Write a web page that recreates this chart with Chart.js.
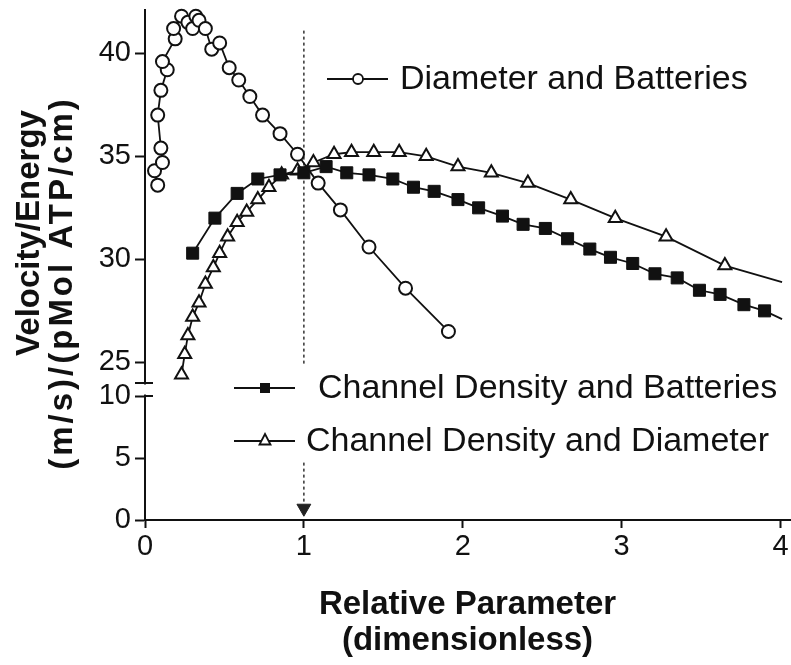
<!DOCTYPE html>
<html>
<head>
<meta charset="utf-8">
<script src="https://cdn.jsdelivr.net/npm/chart.js@4/dist/chart.umd.min.js"></script>
<style>
  body { margin: 0; background: #fff; }
  canvas { display: block; }
</style>
</head>
<body>
<canvas id="myChart" width="791" height="665"></canvas>
<script>
// series names
const seriesNames = [
  "Diameter and Batteries",
  "Channel Density and Batteries",
  "Channel Density and Diameter",
];

// Diameter and Batteries (open circles)
const circleX = [0.08, 0.06, 0.11, 0.10, 0.08, 0.10, 0.14, 0.11, 0.19, 0.18, 0.23, 0.27, 0.30, 0.32, 0.34,
  0.38, 0.42, 0.47, 0.53, 0.59, 0.66, 0.74, 0.85, 0.96, 1.09, 1.23, 1.41, 1.64, 1.91];
const circleY = [33.6, 34.3, 34.7, 35.4, 37.0, 38.2, 39.2, 39.6, 40.7, 41.2, 41.8, 41.5, 41.2, 41.8, 41.6,
  41.2, 40.2, 40.5, 39.3, 38.7, 37.9, 37.0, 36.1, 35.1, 33.7, 32.4, 30.6, 28.6, 26.5];

// Channel Density and Batteries (filled squares), last value is where the line leaves the plot
const squareX = [0.30, 0.44, 0.58, 0.71, 0.85, 1.00, 1.14, 1.27, 1.41, 1.56, 1.69, 1.82, 1.97, 2.10,
  2.25, 2.38, 2.52, 2.66, 2.80, 2.93, 3.07, 3.21, 3.35, 3.49, 3.62, 3.77, 3.90, 4.01];
const squareY = [30.3, 32.0, 33.2, 33.9, 34.1, 34.2, 34.5, 34.2, 34.1, 33.9, 33.5, 33.3, 32.9, 32.5,
  32.1, 31.7, 31.5, 31.0, 30.5, 30.1, 29.8, 29.3, 29.1, 28.5, 28.3, 27.8, 27.5, 27.1];

// Channel Density and Diameter (open triangles), last value is where the line leaves the plot
const triangleX = [0.23, 0.25, 0.27, 0.30, 0.34, 0.38, 0.43, 0.47, 0.52, 0.58, 0.64, 0.71, 0.78, 0.86,
  0.96, 1.06, 1.19, 1.30, 1.44, 1.60, 1.77, 1.97, 2.18, 2.41, 2.68, 2.96, 3.28, 3.65, 4.01];
const triangleY = [24.4, 25.4, 26.3, 27.2, 27.9, 28.8, 29.6, 30.3, 31.1, 31.8, 32.3, 32.9, 33.5, 34.1,
  34.3, 34.7, 35.1, 35.2, 35.2, 35.2, 35.0, 34.5, 34.2, 33.7, 32.9, 32.0, 31.1, 29.7, 28.9];

// reference marker at x = 1
const refX = 1;
const refTop = 41.1;
const refArrowY = 0.95;

// tick labels
const xTicks = [0, 1, 2, 3, 4];
const yTopTicks = [25, 30, 35, 40];
const yLowTicks = [0, 5, 10];

const yTitle = ["Velocity/Energy", "(m/s)/(pMol ATP/cm)"];
const xTitle = ["Relative Parameter", "(dimensionless)"];

const FONT = '"Liberation Sans", Arial, sans-serif';
Chart.defaults.font.family = FONT;
Chart.defaults.color = "#111";

function toPoints(xs, ys) {
  return xs.map((x, i) => ({ x: x, y: ys[i] }));
}
// hide the marker on the final edge point
function lastHidden(n, r) {
  const arr = [];
  for (let i = 0; i < n; i++) arr.push(i === n - 1 ? 0 : r);
  return arr;
}

const breakAndLegend = {
  id: "breakAndLegend",
  beforeDatasetsDraw(chart) {
    const { ctx, scales } = chart;
    const px = scales.x.getPixelForValue(refX);
    ctx.save();
    ctx.strokeStyle = "#333";
    ctx.lineWidth = 1.5;
    ctx.setLineDash([3, 3]);
    ctx.beginPath();
    ctx.moveTo(px, scales.y.getPixelForValue(refTop));
    ctx.lineTo(px, scales.yLow.getPixelForValue(refArrowY + 0.4));
    ctx.stroke();
    ctx.restore();
  },
  afterDatasetsDraw(chart) {
    const { ctx } = chart;
    ctx.save();
    // white backing for the lower legend
    ctx.fillStyle = "#fff";
    ctx.fillRect(226, 364, 565, 98);

    ctx.strokeStyle = "#111";
    ctx.lineWidth = 1.8;
    ctx.font = "34px " + FONT;
    ctx.fillStyle = "#111";
    ctx.textBaseline = "middle";

    // legend 1
    ctx.beginPath(); ctx.moveTo(327, 79); ctx.lineTo(388, 79); ctx.stroke();
    ctx.beginPath(); ctx.arc(358, 79, 5, 0, Math.PI * 2);
    ctx.fillStyle = "#fff"; ctx.fill(); ctx.stroke();
    ctx.fillStyle = "#111";
    ctx.fillText(seriesNames[0], 400, 80);

    // legend 2
    ctx.beginPath(); ctx.moveTo(234, 388); ctx.lineTo(295, 388); ctx.stroke();
    ctx.fillRect(260, 383, 10, 10);
    ctx.fillText(seriesNames[1], 318, 389);

    // legend 3
    ctx.beginPath(); ctx.moveTo(234, 441); ctx.lineTo(295, 441); ctx.stroke();
    ctx.beginPath();
    ctx.moveTo(265, 434); ctx.lineTo(270.5, 444.5); ctx.lineTo(259.5, 444.5); ctx.closePath();
    ctx.fillStyle = "#fff"; ctx.fill(); ctx.stroke();
    ctx.fillStyle = "#111";
    ctx.fillText(seriesNames[2], 306, 442);
    ctx.restore();
  },
  afterDraw(chart) {
    const { ctx, scales, chartArea } = chart;
    const left = chartArea.left;
    const yBreak = scales.y.bottom;
    const y10 = scales.yLow.getPixelForValue(10);
    ctx.save();
    ctx.fillStyle = "#fff";
    ctx.fillRect(left - 3, yBreak + 1.5, 6, y10 - yBreak - 3);
    ctx.strokeStyle = "#111";
    ctx.lineWidth = 2;
    ctx.beginPath();
    ctx.moveTo(left - 10, yBreak); ctx.lineTo(left + 8, yBreak);
    ctx.moveTo(left, y10); ctx.lineTo(left + 8, y10);
    ctx.stroke();

    // y axis title
    ctx.fillStyle = "#111";
    ctx.textAlign = "center";
    ctx.textBaseline = "middle";
    ctx.font = "bold 33px " + FONT;
    ctx.translate(30, 233);
    ctx.rotate(-Math.PI / 2);
    ctx.fillText(yTitle[0], 0, 0);
    ctx.rotate(Math.PI / 2);
    ctx.translate(33, 50);
    ctx.rotate(-Math.PI / 2);
    ctx.letterSpacing = "3px";
    ctx.fillText(yTitle[1], 0, 0);
    ctx.restore();
  },
};

const axisCommon = {
  border: { display: true, color: "#111", width: 2 },
  grid: { display: true, drawOnChartArea: false, drawTicks: true, tickLength: 10, tickColor: "#111", tickWidth: 2 },
  ticks: { font: { size: 29 }, color: "#111", padding: 4 },
};

function fitY(s) {
  s.width = 145;
  s.paddingTop = 0;
  s.paddingBottom = 0;
}

new Chart("myChart", {
  type: "line",
  data: {
    datasets: [
      {
        label: seriesNames[0],
        data: toPoints(circleX, circleY),
        yAxisID: "y",
        borderColor: "#111",
        borderWidth: 1.8,
        pointStyle: "circle",
        pointRadius: 6.5,
        pointBorderWidth: 2,
        pointBackgroundColor: "#fff",
        pointBorderColor: "#111",
        tension: 0,
        fill: false,
        clip: false,
      },
      {
        label: seriesNames[1],
        data: toPoints(squareX, squareY),
        yAxisID: "y",
        borderColor: "#111",
        borderWidth: 1.8,
        pointStyle: "rect",
        pointRadius: lastHidden(squareX.length, 8.5),
        pointBorderWidth: 1,
        pointBackgroundColor: "#111",
        pointBorderColor: "#111",
        tension: 0,
        fill: false,
        clip: false,
      },
      {
        label: seriesNames[2],
        data: toPoints(triangleX, triangleY),
        yAxisID: "y",
        borderColor: "#111",
        borderWidth: 1.8,
        pointStyle: "triangle",
        pointRadius: lastHidden(triangleX.length, 7.5),
        pointBorderWidth: 2,
        pointBackgroundColor: "#fff",
        pointBorderColor: "#111",
        tension: 0,
        fill: false,
        clip: false,
      },
      {
        label: "ref",
        data: [{ x: refX, y: refArrowY }],
        yAxisID: "yLow",
        showLine: false,
        pointStyle: "triangle",
        rotation: 180,
        pointRadius: 8,
        pointBackgroundColor: "#222",
        pointBorderColor: "#222",
        pointBorderWidth: 1,
        clip: false,
      },
    ],
  },
  options: {
    responsive: false,
    animation: false,
    devicePixelRatio: 1,
    layout: { autoPadding: false, padding: { top: 10, right: 1, bottom: 0, left: 0 } },
    plugins: { legend: { display: false }, tooltip: { enabled: false } },
    scales: {
      x: {
        type: "linear",
        min: 0,
        max: 4.06,
        border: axisCommon.border,
        grid: Object.assign({}, axisCommon.grid, { tickLength: 8 }),
        ticks: Object.assign({}, axisCommon.ticks, { padding: 2, maxRotation: 0 }),
        afterBuildTicks: (s) => { s.ticks = xTicks.map((v) => ({ value: v })); },
        afterFit: (s) => { s.height = 145; s.paddingLeft = 0; s.paddingRight = 0; },
        title: {
          display: true,
          text: xTitle,
          font: { size: 33, weight: "bold", lineHeight: 1.1 },
          color: "#111",
          padding: { top: 0, bottom: 6 },
        },
      },
      yLow: {
        type: "linear",
        position: "left",
        stack: "v",
        stackWeight: 137,
        min: 0,
        max: 11.05,
        border: axisCommon.border,
        grid: axisCommon.grid,
        ticks: axisCommon.ticks,
        afterBuildTicks: (s) => { s.ticks = yLowTicks.map((v) => ({ value: v })); },
        afterFit: fitY,
      },
      y: {
        type: "linear",
        position: "left",
        stack: "v",
        stackWeight: 373,
        min: 24,
        max: 42.1,
        border: axisCommon.border,
        grid: axisCommon.grid,
        ticks: axisCommon.ticks,
        afterBuildTicks: (s) => { s.ticks = yTopTicks.map((v) => ({ value: v })); },
        afterFit: fitY,
      },
    },
  },
  plugins: [breakAndLegend],
});
</script>
</body>
</html>
